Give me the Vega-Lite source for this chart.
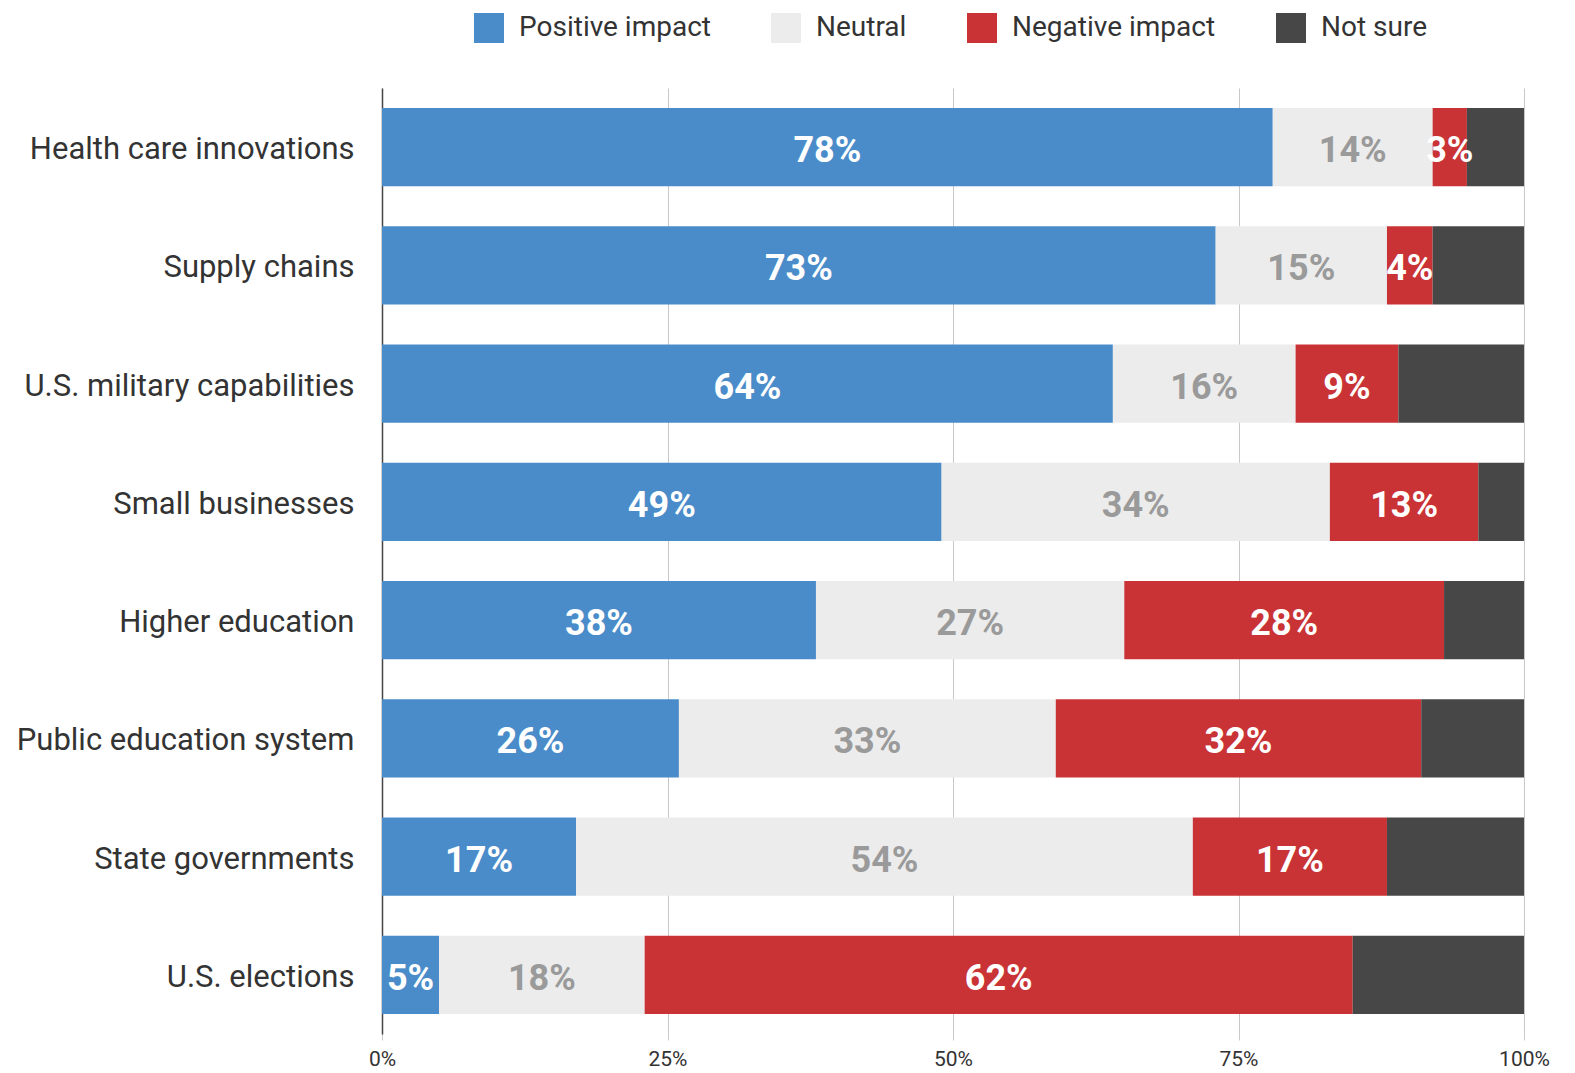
{
  "$schema": "https://vega.github.io/schema/vega-lite/v6.json",
  "autosize": {"type": "none"},
  "padding": {"left": 382, "top": 88, "right": 51, "bottom": 39},
  "width": 1142,
  "height": 946,
  "background": "white",
  "config": {
    "font": "Roboto",
    "view": {"stroke": null}
  },
  "data": {"values": [
    {"cat": "Health care innovations", "response": "Positive impact", "o": 1, "value": 0.78},
    {"cat": "Health care innovations", "response": "Neutral", "o": 2, "value": 0.14},
    {"cat": "Health care innovations", "response": "Negative impact", "o": 3, "value": 0.03},
    {"cat": "Health care innovations", "response": "Not sure", "o": 4, "value": 0.05},
    {"cat": "Supply chains", "response": "Positive impact", "o": 1, "value": 0.73},
    {"cat": "Supply chains", "response": "Neutral", "o": 2, "value": 0.15},
    {"cat": "Supply chains", "response": "Negative impact", "o": 3, "value": 0.04},
    {"cat": "Supply chains", "response": "Not sure", "o": 4, "value": 0.08},
    {"cat": "U.S. military capabilities", "response": "Positive impact", "o": 1, "value": 0.64},
    {"cat": "U.S. military capabilities", "response": "Neutral", "o": 2, "value": 0.16},
    {"cat": "U.S. military capabilities", "response": "Negative impact", "o": 3, "value": 0.09},
    {"cat": "U.S. military capabilities", "response": "Not sure", "o": 4, "value": 0.11},
    {"cat": "Small businesses", "response": "Positive impact", "o": 1, "value": 0.49},
    {"cat": "Small businesses", "response": "Neutral", "o": 2, "value": 0.34},
    {"cat": "Small businesses", "response": "Negative impact", "o": 3, "value": 0.13},
    {"cat": "Small businesses", "response": "Not sure", "o": 4, "value": 0.04},
    {"cat": "Higher education", "response": "Positive impact", "o": 1, "value": 0.38},
    {"cat": "Higher education", "response": "Neutral", "o": 2, "value": 0.27},
    {"cat": "Higher education", "response": "Negative impact", "o": 3, "value": 0.28},
    {"cat": "Higher education", "response": "Not sure", "o": 4, "value": 0.07},
    {"cat": "Public education system", "response": "Positive impact", "o": 1, "value": 0.26},
    {"cat": "Public education system", "response": "Neutral", "o": 2, "value": 0.33},
    {"cat": "Public education system", "response": "Negative impact", "o": 3, "value": 0.32},
    {"cat": "Public education system", "response": "Not sure", "o": 4, "value": 0.09},
    {"cat": "State governments", "response": "Positive impact", "o": 1, "value": 0.17},
    {"cat": "State governments", "response": "Neutral", "o": 2, "value": 0.54},
    {"cat": "State governments", "response": "Negative impact", "o": 3, "value": 0.17},
    {"cat": "State governments", "response": "Not sure", "o": 4, "value": 0.12},
    {"cat": "U.S. elections", "response": "Positive impact", "o": 1, "value": 0.05},
    {"cat": "U.S. elections", "response": "Neutral", "o": 2, "value": 0.18},
    {"cat": "U.S. elections", "response": "Negative impact", "o": 3, "value": 0.62},
    {"cat": "U.S. elections", "response": "Not sure", "o": 4, "value": 0.15}
  ]},
  "encoding": {
    "y": {
      "field": "cat", "type": "nominal", "sort": null,
      "scale": {"paddingInner": 0.338, "paddingOuter": 0.169},
      "axis": {
        "title": null, "ticks": false, "domain": true, "domainColor": "#444", "domainWidth": 1.5,
        "labelFontSize": 31, "labelColor": "#333", "labelPadding": 28, "labelLimit": 0,
        "labelOffset": 3
      }
    }
  },
  "layer": [
    {
      "mark": {"type": "bar"},
      "encoding": {
        "x": {
          "field": "value", "type": "quantitative", "stack": "zero",
          "scale": {"domain": [0, 1], "nice": false},
          "axis": {
            "title": null, "format": ".0%", "values": [0, 0.25, 0.5, 0.75, 1],
            "grid": true, "gridColor": "#c8c8c8", "gridWidth": 1,
            "domain": false, "ticks": true, "tickColor": "#c8c8c8", "tickSize": 6,
            "labelFontSize": 21, "labelColor": "#333", "labelPadding": 8,
            "labelFlush": false, "labelBound": false
          }
        },
        "order": {"field": "o", "type": "quantitative"},
        "color": {
          "field": "response", "type": "nominal",
          "sort": ["Positive impact", "Neutral", "Negative impact", "Not sure"],
          "scale": {
            "domain": ["Positive impact", "Neutral", "Negative impact", "Not sure"],
            "range": ["#4a8cc9", "#ececec", "#c93335", "#474747"]
          },
          "legend": {
            "title": null, "orient": "none", "legendX": 92, "legendY": -75,
            "direction": "horizontal", "columns": 4,
            "symbolType": "square", "symbolSize": 900, "symbolStrokeWidth": 0,
            "labelFontSize": 28, "labelColor": "#333", "labelOffset": 15,
            "labelLimit": 0, "columnPadding": 60
          }
        }
      }
    },
    {
      "transform": [{"filter": "datum.response !== 'Not sure'"}],
      "mark": {"type": "text", "fontSize": 36, "fontWeight": "bold", "align": "center", "baseline": "middle", "dy": 4},
      "encoding": {
        "x": {"field": "value", "type": "quantitative", "stack": "zero", "bandPosition": 0.5},
        "order": {"field": "o", "type": "quantitative"},
        "text": {"field": "value", "type": "quantitative", "format": ".0%"},
        "color": {
          "condition": {"test": "datum.response === 'Neutral'", "value": "#9a9a9a"},
          "value": "white"
        }
      }
    }
  ]
}
